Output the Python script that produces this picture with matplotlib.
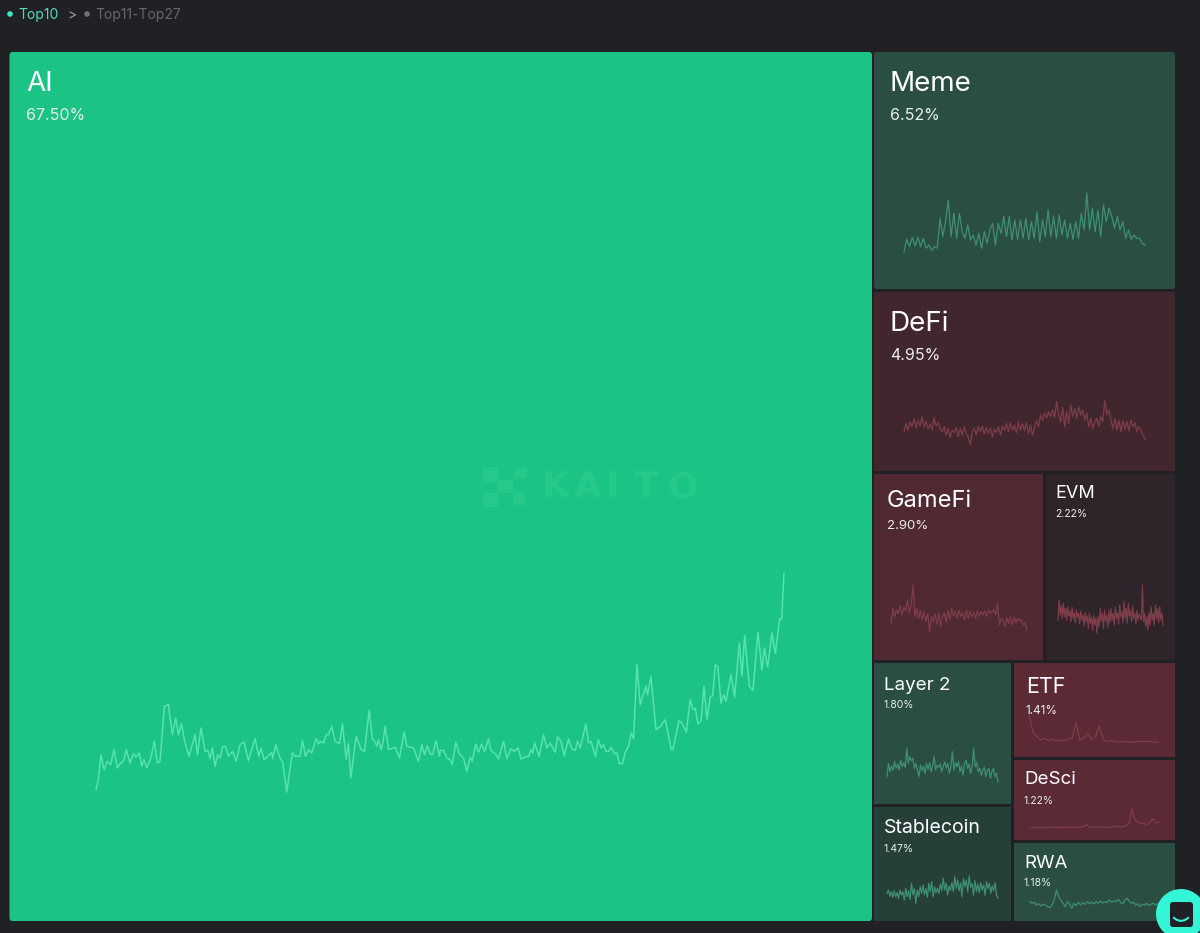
import numpy as np
import matplotlib
matplotlib.use("Agg")
import matplotlib.pyplot as plt
from matplotlib.patches import Rectangle, FancyBboxPatch, Circle

plt.rcParams['font.family'] = ['Inter', 'DejaVu Sans']

W, H = 1200, 933

# sector names and mindshare
names = ["AI", "Meme", "DeFi", "GameFi", "EVM", "Layer 2", "Stablecoin", "ETF", "DeSci", "RWA"]
shares = ["67.50%", "6.52%", "4.95%", "2.90%", "2.22%", "1.80%", "1.47%", "1.41%", "1.22%", "1.18%"]

# AI trend in two halves
ai_day_a = [48, 55, 63, 72, 82, 92, 102, 112, 122, 130, 139, 150, 160, 168, 178, 185, 192, 200, 212, 223,
            232, 240, 253, 265, 277, 287, 295, 304, 314, 327, 345, 352, 363, 375, 383, 390, 397, 405, 413, 420,
            428, 436, 445, 458, 468, 480, 492, 505, 525, 536, 543, 552, 575, 578, 587, 600, 608, 620, 628, 637,
            645, 660, 667, 676, 685, 695, 708, 716, 722, 730, 738, 745, 755, 765, 778, 787, 798, 805, 812, 828,
            842, 853, 867, 877, 884, 890, 895, 903, 908, 915, 925, 945, 958, 972, 980, 1000, 1015, 1025, 1033, 1042,
            1050, 1058, 1067, 1078]
ai_val_a = [10, 40, 115, 70, 95, 85, 130, 75, 90, 95, 130, 90, 118, 108, 120, 80, 100, 75, 103, 155,
            90, 95, 260, 265, 175, 225, 175, 208, 155, 110, 175, 115, 195, 125, 128, 103, 135, 80, 115, 105,
            140, 140, 110, 125, 95, 145, 153, 97, 163, 110, 135, 100, 122, 103, 145, 105, 92, 2, 60, 120,
            110, 110, 158, 110, 130, 120, 163, 148, 155, 150, 175, 175, 200, 155, 148, 208, 102, 148, 45, 170,
            132, 124, 248, 162, 155, 140, 160, 130, 150, 200, 130, 137, 105, 183, 140, 135, 95, 145, 115, 142,
            117, 115, 157, 110]
ai_day_b = [1080, 1090, 1100, 1110, 1116, 1127, 1137, 1150, 1160, 1170, 1176, 1187, 1195, 1204, 1213, 1225, 1232, 1245, 1255, 1270,
            1280, 1292, 1302, 1313, 1323, 1335, 1345, 1352, 1358, 1363, 1377, 1390, 1400, 1410, 1425, 1432, 1442, 1452, 1465, 1475,
            1485, 1492, 1500, 1517, 1525, 1532, 1538, 1546, 1554, 1563, 1570, 1577, 1585, 1593, 1602, 1610, 1617, 1627, 1635, 1645,
            1653, 1660, 1670, 1680, 1697, 1702, 1712, 1727, 1740, 1755, 1773, 1778, 1796, 1805, 1818, 1830, 1838, 1845, 1853, 1862,
            1871, 1880, 1890, 1897, 1905, 1913, 1922, 1930, 1937, 1952, 1963, 1977, 1985, 1993, 2007, 2018, 2033, 2045, 2052, 2062,
            2075, 2085, 2098, 2104, 2111]
ai_val_b = [128, 128, 105, 100, 85, 152, 118, 105, 65, 108, 95, 147, 122, 147, 125, 162, 127, 118, 103, 155,
            103, 133, 125, 135, 102, 108, 110, 130, 120, 150, 110, 175, 135, 150, 122, 168, 155, 112, 162, 132,
            128, 155, 135, 207, 150, 155, 135, 110, 160, 135, 145, 125, 125, 137, 118, 120, 88, 88, 122, 140,
            180, 163, 385, 265, 320, 295, 350, 190, 200, 220, 130, 130, 217, 210, 183, 280, 250, 255, 207, 215,
            320, 222, 288, 292, 385, 378, 270, 295, 275, 355, 288, 450, 352, 472, 320, 308, 483, 368, 435, 378,
            480, 418, 522, 522, 658]
ai_day = ai_day_a + ai_day_b
ai_val = ai_val_a + ai_val_b

meme_val = [5, 42, 20, 48, 22, 48, 20, 45, 15, 25, 8, 20, 15, 105, 50, 95, 160, 50, 120, 45, 120, 65, 45, 85, 40, 55, 25, 60, 15, 65,
            30, 70, 90, 25, 90, 60, 110, 50, 110, 40, 100, 42, 100, 45, 105, 40, 95, 45, 125, 35, 100, 50, 130, 50, 110, 45, 115, 55, 100, 45,
            90, 42, 95, 45, 120, 70, 180, 70, 135, 65, 130, 50, 145, 95, 135, 110, 75, 110, 70, 95, 45, 70, 42, 55, 45, 45, 30, 25]
defi_val = [45, 70, 50, 75, 60, 85, 55, 80, 62, 90, 58, 75, 55, 68, 50, 88, 62, 72, 55, 45, 60, 35, 55, 28, 50, 42, 58, 30, 55, 35,
            60, 40, 30, 5, 45, 55, 35, 60, 45, 62, 38, 58, 40, 55, 30, 52, 42, 60, 35, 62, 48, 70, 45, 72, 50, 65, 42, 75, 50, 70,
            48, 72, 40, 65, 35, 60, 78, 60, 95, 80, 100, 85, 105, 90, 110, 88, 135, 95, 75, 118, 60, 105, 70, 125, 90, 115, 85, 120, 95, 110,
            78, 100, 60, 85, 55, 72, 85, 60, 90, 75, 140, 95, 110, 80, 55, 85, 50, 80, 45, 78, 52, 75, 48, 80, 60, 72, 45, 60, 50, 35, 22]
gamefi_val = [40, 85, 60, 80, 70, 92, 65, 88, 78, 110, 72, 95, 155, 60, 85, 55, 80, 50, 75, 45, 70, 15, 60, 45, 68, 38, 70, 30, 60, 72,
              42, 78, 50, 85, 62, 75, 55, 80, 60, 72, 50, 78, 55, 75, 60, 72, 55, 78, 62, 75, 65, 78, 60, 80, 70, 75, 82, 65, 100, 35,
              55, 48, 30, 58, 40, 60, 35, 58, 42, 55, 48, 50, 35, 42, 20]
evm_val = [50, 110, 65, 95, 55, 100, 60, 85, 50, 90, 62, 78, 45, 88, 55, 72, 42, 80, 58, 70, 38, 78, 50, 65, 32, 72, 45, 62, 25, 70,
           40, 58, 18, 65, 35, 55, 10, 60, 30, 85, 45, 70, 25, 80, 48, 65, 28, 78, 42, 85, 50, 70, 35, 88, 55, 72, 38, 95, 60, 75,
           42, 105, 55, 85, 40, 100, 62, 78, 45, 90, 55, 70, 38, 80, 50, 68, 60, 50, 155, 45, 70, 30, 60, 20, 72, 35, 90, 50, 70, 35,
           95, 55, 85, 42, 90, 50, 70, 35]
layer2_val = [30, 70, 45, 62, 50, 75, 55, 68, 50, 80, 60, 72, 58, 115, 70, 90, 78, 85, 55, 70, 50, 30, 65, 48, 62, 40, 70, 52, 72, 45,
              62, 90, 50, 65, 58, 68, 45, 60, 75, 55, 70, 40, 60, 105, 50, 72, 60, 75, 45, 62, 35, 70, 80, 55, 68, 40, 62, 115, 60, 72,
              45, 55, 35, 50, 58, 30, 48, 55, 25, 45, 55, 30, 40, 15]
stable_val = [40, 50, 32, 45, 28, 48, 30, 42, 25, 50, 35, 45, 20, 55, 30, 48, 22, 70, 35, 55, 10, 50, 30, 60, 40, 65, 35, 55, 28, 70,
              45, 75, 30, 60, 42, 55, 40, 68, 48, 85, 50, 70, 35, 62, 48, 72, 45, 90, 55, 80, 48, 72, 30, 85, 60, 80, 45, 92, 58, 70,
              35, 78, 45, 68, 42, 72, 50, 65, 35, 75, 55, 70, 40, 62, 48, 72, 35, 25]
etf_val = [85, 35, 20, 10, 15, 8, 12, 6, 10, 8, 12, 15, 62, 10, 15, 30, 12, 20, 52, 12, 5, 8, 5, 4, 6, 4, 5, 3, 6, 5, 6, 5, 4, 3]
desci_val = [8, 8, 7, 8, 8, 7, 8, 8, 9, 8, 8, 7, 8, 8, 9, 8, 7, 9, 10, 16, 8, 9, 8, 10, 9, 8, 9, 8, 10, 11, 9, 10, 12, 20, 65, 30, 25, 18, 20, 15, 22, 35, 20, 25]
rwa_val = [20, 15, 18, 10, 14, 7, 12, 10, 5, 2, 10, 25, 55, 35, 25, 15, 5, 20, 12, 0, 15, 8, 18, 10, 17, 12, 20, 14, 18, 13,
           20, 15, 22, 16, 20, 17, 25, 18, 22, 20, 27, 18, 13, 24, 30, 22, 15, 18, 10, 14, 5, 12, 10, 15, 8, 12, 15, 10, 14, 10]

GREEN = "#3f8f72"
RED = "#7f3d4a"
MARK = "#26c98a"

fig = plt.figure(figsize=(W / 100, H / 100), dpi=100, facecolor="#202125")
bg = fig.add_axes([0, 0, 1, 1])
bg.set_xlim(0, W)
bg.set_ylim(H, 0)
bg.axis("off")


def cell(name, share, box, color, title_pos, title_size, pct_y, pct_size, rounded=False):
    x0, y0, x1, y1 = box
    if rounded:
        bg.add_patch(FancyBboxPatch((x0 + 3, y0 + 3), x1 - x0 - 6, y1 - y0 - 6,
                                    boxstyle="round,pad=3,rounding_size=3", fc=color, ec="none"))
    else:
        bg.add_patch(Rectangle((x0, y0), x1 - x0, y1 - y0, fc=color, ec="none"))
    bg.text(title_pos[0], title_pos[1], name, color="#ffffff", fontsize=title_size, va="center", ha="left")
    bg.text(title_pos[0], pct_y, share, color="#e8eeec", fontsize=pct_size, va="center", ha="left")


def spark(values, x0, x1, base, color, days=None, lw=0.9):
    # values are in thirds of a pixel above the base line
    if days is None:
        days = np.arange(len(values))
    top = max(values)
    y_top = base - top / 3
    ax = fig.add_axes([x0 / W, 1 - base / H, (x1 - x0) / W, (base - y_top) / H])
    ax.plot(days, values, color=color, lw=lw, solid_joinstyle="round", clip_on=False)
    ax.set_xlim(min(days), max(days))
    ax.set_ylim(0, top)
    ax.axis("off")
    ax.patch.set_alpha(0)


cell(names[0], shares[0], (9.5, 52, 872, 921), "#1bc484", (26, 84), 20, 115, 11.5, rounded=True)
cell(names[1], shares[1], (874, 52, 1175, 289), "#2a4f42", (890, 84), 20, 115, 11.5, rounded=True)
cell(names[2], shares[2], (874, 292, 1175, 471), "#42262e", (890, 324), 20, 355, 11.5)
cell(names[3], shares[3], (874, 474, 1043, 660), "#512932", (887, 501), 17, 526, 9.5)
cell(names[4], shares[4], (1046, 474, 1175, 660), "#2e2429", (1055, 494), 13, 514, 7.5)
cell(names[5], shares[5], (874, 663, 1011, 804), "#2a4f42", (884, 685), 13.5, 705, 7.5)
cell(names[6], shares[6], (874, 807, 1011, 921), "#273f39", (884, 828), 14, 849, 7.5)
cell(names[7], shares[7], (1014, 663, 1175, 757), "#5c2a35", (1026, 687), 15.5, 711, 8.5)
cell(names[8], shares[8], (1014, 760, 1175, 840), "#5a2a35", (1024, 780), 13.5, 801, 7.5)
cell(names[9], shares[9], (1014, 843, 1175, 921), "#2a4f42", (1024, 864), 13.5, 883, 7.5)

# watermark
for letter, lx in zip("KAITO", [556, 588, 612, 646, 683]):
    bg.text(lx, 487, letter, color=MARK, fontsize=26, fontweight="bold", family="DejaVu Sans",
            ha="center", va="center")
for bx, by, bw, bh in [(483, 467, 15, 15), (483, 493, 15, 14), (498, 480, 15, 13), (515, 468, 12, 10), (513, 493, 12, 12)]:
    bg.add_patch(Rectangle((bx, by), bw, bh, fc=MARK, ec="none"))

# header tabs
bg.add_patch(Circle((10, 14), 2.8, fc="#3be8c9", ec="none"))
bg.text(18, 15, "Top10", color="#4fd9bb", fontsize=10, va="center", ha="left")
bg.text(72, 15, ">", color="#9a9b9e", fontsize=10, va="center", ha="center")
bg.add_patch(Circle((87, 14), 2.8, fc="#6f7073", ec="none"))
bg.text(95, 15, "Top11-Top27", color="#66676a", fontsize=10, va="center", ha="left")

spark(ai_val, 96, 784, 793, "#58e2ae", days=ai_day, lw=1.1)
spark(meme_val, 904, 1145, 253.3, GREEN)
spark(defi_val, 904, 1145, 446.7, RED)
spark(gamefi_val, 891, 1027, 636.7, RED)
spark(evm_val, 1058, 1163, 636.7, RED)
spark(layer2_val, 887, 998, 786.7, GREEN)
spark(stable_val, 887, 998, 906.7, GREEN)
spark(etf_val, 1029, 1158, 743.3, RED)
spark(desci_val, 1030, 1159, 830, RED)
spark(rwa_val, 1030, 1160, 908.3, GREEN)

# chat bubble, stays on top of the RWA line
top = fig.add_axes([0, 0, 1, 1])
top.set_xlim(0, W)
top.set_ylim(H, 0)
top.axis("off")
top.patch.set_alpha(0)
top.add_patch(Circle((1181, 914), 25, fc="#34f5d6", ec="none"))
top.add_patch(FancyBboxPatch((1172, 904), 19, 21, boxstyle="round,pad=2,rounding_size=3", fc="#202125", ec="none"))
top.plot([1174, 1177, 1181, 1185, 1188], [918, 920, 921, 920, 918], color="#34f5d6", lw=1.5)

fig.savefig("out.png", dpi=100, facecolor=fig.get_facecolor())
